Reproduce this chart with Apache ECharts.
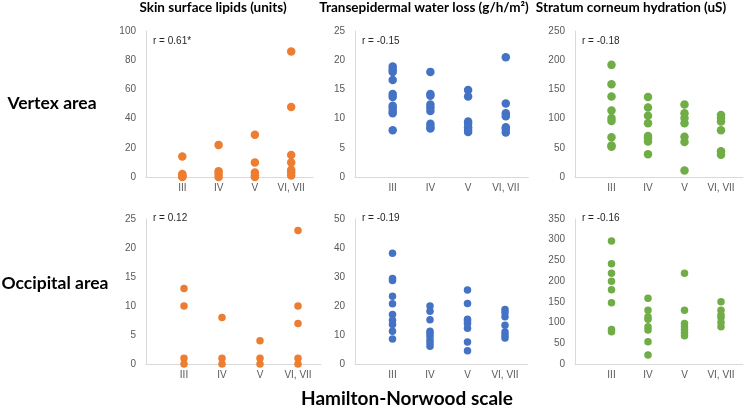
<!DOCTYPE html>
<html>
<head>
<meta charset="utf-8">
<script src="https://cdn.jsdelivr.net/npm/echarts@6/dist/echarts.min.js"></script>
<style>
  html, body { margin: 0; padding: 0; background: #fff; }
  #main { width: 753px; height: 408px; }
</style>
</head>
<body>
<div id="main"></div>
<script>
// categories on the x axis (Hamilton-Norwood grades)
var cats = ['III', 'IV', 'V', 'VI, VII'];

// vertex area, one inner list per category
var vertexLipids = [[14, 2, 1, 0.5, 0], [22, 4, 2, 0], [29, 10, 3, 1, 0], [86, 48, 15, 10, 5, 3, 1]];
var vertexTewl = [
  [18.9, 18.4, 18.0, 16.6, 14.2, 13.7, 12.2, 11.8, 11.3, 10.9, 8.0],
  [18.0, 14.2, 13.9, 12.4, 11.9, 11.3, 9.1, 8.6, 8.3],
  [14.9, 13.8, 9.5, 9.1, 8.5, 8.1, 7.7],
  [20.5, 12.6, 10.9, 10.4, 8.5, 8.2, 7.6]
];
var vertexSch = [
  [192, 159, 138, 114, 101, 96, 68, 54, 52],
  [137, 119, 105, 92, 70, 66, 61, 39],
  [124, 109, 101, 92, 69, 60, 11],
  [106, 101, 95, 80, 44, 38]
];

// occipital area
var occLipids = [[13, 10, 1, 0], [8, 1, 0], [4, 1, 0], [23, 10, 7, 1, 0]];
var occTewl = [
  [38.2, 29.5, 28.8, 23.4, 20.8, 17.1, 15.1, 13.6, 11.3, 8.6],
  [20.0, 18.2, 15.3, 11.3, 10.5, 9.6, 8.3, 7.2, 6.1],
  [25.5, 20.9, 15.4, 14.8, 14.0, 12.3, 7.6, 4.6],
  [18.8, 17.8, 16.3, 13.4, 11.0, 10.0, 9.0]
];
var occSch = [
  [297, 242, 219, 200, 179, 148, 83, 78],
  [159, 130, 114, 108, 90, 82, 54, 22],
  [219, 130, 98, 90, 84, 76, 68],
  [150, 130, 118, 112, 100, 90]
];

var rLabels = ['r = 0.61*', 'r = -0.15', 'r = -0.18', 'r = 0.12', 'r = -0.19', 'r = -0.16'];
var yMax = [100, 25, 250, 25, 50, 350];
var yStep = [20, 5, 50, 5, 10, 50];
var colTitles = ['Skin surface lipids (units)', 'Transepidermal water loss (g/h/m\u00b2)', 'Stratum corneum hydration (uS)'];
var rowTitles = ['Vertex area', 'Occipital area'];

var panelData = [vertexLipids, vertexTewl, vertexSch, occLipids, occTewl, occSch];
var colors = ['#ED7D31', '#4472C4', '#70AD47'];

// panel geometry (px)
var lefts = [146, 355, 575];
var units = [36.3, 37.7, 36.5, 38, 37.5, 36.5];
var tops = [31, 219];
var heights = [146, 145];
var xMax = 4.6;

var grids = [], xAxes = [], yAxes = [], series = [], graphics = [];

panelData.forEach(function (vals, p) {
  var row = Math.floor(p / 3), col = p % 3;
  grids.push({
    left: lefts[col], top: tops[row],
    width: units[p] * xMax, height: heights[row]
  });
  xAxes.push({
    gridIndex: p, type: 'value', min: 0, max: xMax, interval: 1,
    axisLine: { show: true, lineStyle: { color: '#d9d9d9' } },
    axisTick: { show: false },
    splitLine: { show: false },
    axisLabel: {
      color: '#595959', fontSize: 10, fontFamily: 'Liberation Sans', margin: 6,
      showMaxLabel: false,
      formatter: function (v) { return cats[v - 1] || ''; }
    }
  });
  yAxes.push({
    gridIndex: p, type: 'value', min: 0, max: yMax[p], interval: yStep[p],
    axisLine: { show: true, lineStyle: { color: '#d9d9d9' } },
    axisTick: { show: false },
    splitLine: { show: false },
    axisLabel: { color: '#595959', fontSize: 10, fontFamily: 'Liberation Sans', margin: 10 }
  });
  var pts = [];
  vals.forEach(function (colVals, i) {
    colVals.forEach(function (v) { pts.push([i + 1, v]); });
  });
  series.push({
    type: 'scatter', xAxisIndex: p, yAxisIndex: p,
    data: pts,
    symbolSize: row === 0 ? 8.5 : 7.5,
    itemStyle: { color: colors[col], opacity: 1 },
    silent: true
  });
  // correlation note
  graphics.push({
    type: 'text',
    left: lefts[col] + 7,
    top: row === 0 ? 36 : 213,
    style: { text: rLabels[p], fill: '#262626', fontSize: 10, fontFamily: 'Liberation Sans' }
  });
});

var titleX = [213, 424, 631];
colTitles.forEach(function (t, i) {
  graphics.push({
    type: 'text', x: titleX[i], y: 8,
    style: { text: t, fill: '#000', fontSize: 13.5, fontWeight: 'bold', fontFamily: 'Lato',
      align: 'center', verticalAlign: 'middle' }
  });
});
var rowX = [52, 55];
var rowY = [103, 283];
rowTitles.forEach(function (t, i) {
  graphics.push({
    type: 'text', x: rowX[i], y: rowY[i],
    style: { text: t, fill: '#000', fontSize: 17.5, fontWeight: 'bold', fontFamily: 'Lato',
      align: 'center', verticalAlign: 'middle' }
  });
});
graphics.push({
  type: 'text', x: 407, y: 399,
  style: { text: 'Hamilton-Norwood scale', fill: '#000', fontSize: 19, fontWeight: 'bold', fontFamily: 'Lato',
    align: 'center', verticalAlign: 'middle' }
});

var myChart = echarts.init(document.getElementById('main'));
myChart.setOption({
  animation: false,
  backgroundColor: '#fff',
  grid: grids,
  xAxis: xAxes,
  yAxis: yAxes,
  series: series,
  graphic: graphics
});
</script>
</body>
</html>
